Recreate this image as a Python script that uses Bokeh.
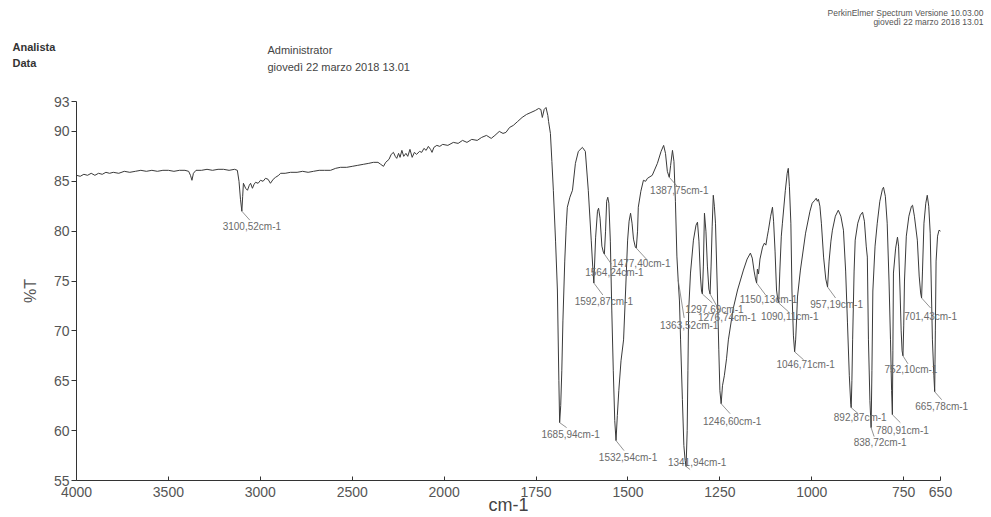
from bokeh.plotting import figure
from bokeh.layouts import column
from bokeh.models import (Range1d, FixedTicker, CustomJSTickFormatter, LinearAxis)
from bokeh.core.properties import value
from bokeh.embed import file_html
from bokeh.resources import INLINE

# ---------------- data ----------------
wn_high = [4000, 3980, 3960, 3940, 3920, 3900, 3880, 3860, 3840, 3820,
           3800, 3770, 3740, 3710, 3680, 3650, 3620, 3590, 3560, 3530,
           3500, 3470, 3440, 3410, 3390, 3380, 3372, 3364, 3350, 3320,
           3290, 3260, 3230, 3200, 3170, 3140, 3125, 3116, 3108, 3100.52,
           3096, 3092, 3080, 3070, 3060, 3053, 3043, 3034, 3026, 3012,
           2999, 2985, 2972, 2958, 2945, 2930, 2917, 2900, 2890, 2865,
           2836, 2800, 2770, 2740, 2711, 2680, 2650, 2618, 2590, 2564,
           2530, 2500, 2470, 2440, 2410, 2385, 2360, 2345, 2330, 2318,
           2300, 2288, 2276, 2266, 2258, 2248, 2240, 2230, 2220, 2208,
           2198, 2186, 2174, 2162, 2150, 2134, 2122, 2110, 2098, 2086,
           2074, 2066, 2056, 2040, 2024, 2008, 1990, 1975, 1962, 1950,
           1938, 1925, 1910, 1898, 1885, 1872, 1862, 1850, 1840, 1832,
           1822, 1812, 1800, 1788, 1776, 1764, 1752, 1743, 1737, 1733,
           1728, 1723, 1718]
tr_high = [85.6, 85.5, 85.7, 85.6, 85.8, 85.6, 85.8, 85.7, 85.9, 85.8,
           85.9, 85.8, 86.0, 85.9, 86.0, 86.1, 86.0, 86.1, 86.0, 86.1,
           86.1, 86.0, 86.1, 86.1, 86.0, 85.6, 85.1, 85.8, 86.1, 86.1,
           86.2, 86.1, 86.2, 86.2, 86.1, 86.2, 86.1, 85.0, 83.2, 82.0,
           83.5, 84.8, 84.3, 84.1, 84.6, 84.8, 84.3, 84.7, 84.9, 84.8,
           85.1, 85.0, 85.3, 85.2, 84.8, 85.2, 85.4, 85.6, 85.8, 85.8,
           85.9, 85.9, 86.0, 85.9, 86.0, 86.1, 86.1, 86.1, 86.3, 86.4,
           86.4, 86.5, 86.6, 86.7, 86.8, 86.9, 86.9, 86.7, 86.5, 86.9,
           87.2, 87.7, 87.9, 87.5, 87.3, 87.8, 87.4, 88.1, 87.5, 87.8,
           87.5, 88.2, 87.4, 87.9, 87.7, 88.0, 87.9, 88.3, 88.1, 88.5,
           88.2, 87.9, 88.4, 88.6, 88.5, 88.7, 88.6, 88.9, 88.8, 89.1,
           88.9, 89.2, 89.1, 89.4, 89.6, 89.3, 89.6, 90.0, 89.8, 89.9,
           90.4, 90.6, 91.0, 91.4, 91.7, 91.9, 92.1, 92.3, 92.2, 91.4,
           92.2, 92.4, 91.6]

wn_mid = [1716, 1711, 1707, 1703, 1697, 1692, 1688, 1685.94, 1683, 1680,
          1677, 1672, 1668, 1665, 1658, 1651, 1643, 1635, 1624, 1616,
          1608, 1600, 1596, 1592.87, 1588, 1583, 1580, 1576, 1571, 1567,
          1564.24, 1561, 1558, 1555, 1552, 1548, 1544, 1540, 1536, 1532.54,
          1529, 1525, 1519, 1512, 1506, 1501, 1497, 1493, 1489, 1485,
          1480, 1477.40, 1474, 1472, 1465, 1458, 1452, 1447, 1434, 1420,
          1410, 1403, 1398, 1393, 1387.75, 1384, 1379, 1375, 1371, 1367,
          1363.52, 1360, 1357, 1352, 1348, 1344.5, 1341.94, 1339, 1337, 1335,
          1330, 1322, 1315, 1311, 1307, 1303, 1300, 1297.69, 1295, 1292,
          1288, 1284, 1280, 1276.74, 1274, 1271, 1268, 1265, 1262, 1257,
          1253, 1250, 1246.60]
tr_mid = [91.0, 89.8, 87.0, 84.1, 79.0, 74.1, 65.0, 60.8, 62.5, 66.0,
          71.0, 77.0, 80.5, 82.4, 83.4, 84.1, 86.8, 88.0, 88.4, 88.0,
          84.1, 79.1, 76.5, 74.8, 79.4, 82.0, 82.3, 81.3, 78.5, 77.9,
          77.7, 80.0, 83.0, 83.4, 82.8, 79.0, 72.0, 66.0, 61.0, 59.0,
          61.5, 64.0, 67.0, 69.1, 74.5, 79.1, 81.0, 81.8, 80.8, 79.2,
          78.4, 78.3, 80.0, 82.4, 84.0, 85.1, 85.0, 85.3, 85.6, 86.8,
          88.0, 88.6, 87.8, 86.0, 85.4, 86.6, 88.1, 87.0, 83.0, 77.5,
          75.1, 73.0, 69.1, 63.1, 58.5, 57.0, 56.4, 60.0, 66.0, 72.0,
          75.8, 79.1, 80.6, 80.9, 79.0, 75.5, 74.0, 73.7, 76.5, 81.8,
          80.0, 76.5, 74.2, 73.7, 76.5, 80.5, 83.6, 82.5, 80.8, 74.1,
          68.1, 64.0, 62.7]

wn_low = [1243, 1238, 1232, 1227, 1214, 1202, 1186, 1176, 1167, 1162,
          1157, 1153, 1150.13, 1148, 1145, 1141, 1134, 1129, 1125, 1121,
          1118, 1112, 1107, 1104, 1100, 1096, 1092, 1090.11, 1087, 1083,
          1080, 1072, 1067, 1064, 1061, 1057, 1054, 1050, 1046.71, 1044,
          1041, 1039, 1031, 1017, 1005, 999, 992, 988, 985, 982,
          978, 974, 968, 962, 957.19, 953, 948, 944, 936, 928,
          921, 914, 908, 903, 898, 894, 892.87, 891, 889, 885,
          882, 875, 868, 862, 857, 852, 849, 846, 842, 838.72,
          836.5, 834, 828, 822, 815, 808, 805, 800, 795, 790,
          786, 783, 780.91, 779.5, 778, 772, 767, 764, 760, 757,
          754.5, 752.10, 750, 748, 743, 736, 729, 726, 721, 713,
          708, 704, 701.43, 699, 695, 690, 686, 682, 678, 672,
          668, 665.78, 664, 662, 658, 654, 650]
tr_low = [64.5, 65.5, 67.2, 69.1, 72.2, 74.1, 76.1, 77.2, 77.8, 77.3,
          76.0, 75.2, 74.8, 76.2, 75.7, 77.2, 78.4, 78.8, 78.6, 79.5,
          80.1, 81.5, 82.4, 81.0, 78.0, 74.1, 73.0, 72.8, 76.0, 79.5,
          80.8, 84.1, 85.8, 86.3, 84.5, 80.8, 74.0, 69.5, 67.9, 69.1,
          71.5, 73.4, 76.1, 79.8, 82.0, 82.8, 83.1, 83.3, 83.0, 83.2,
          82.5, 80.8, 77.4, 75.2, 74.4, 77.0, 79.0, 80.1, 81.5, 82.1,
          81.5, 80.1, 76.0, 70.8, 65.5, 62.6, 62.3, 65.0, 69.1, 76.0,
          79.1, 80.8, 81.6, 81.9, 81.0, 78.5, 77.4, 69.1, 63.0, 60.3,
          66.0, 74.0, 78.5, 80.8, 83.0, 84.2, 84.4, 83.5, 80.8, 75.0,
          69.1, 64.0, 61.6, 68.0, 75.8, 78.3, 79.4, 78.5, 74.0, 70.0,
          68.0, 67.5, 70.5, 75.0, 79.5, 81.5, 82.5, 82.6, 81.5, 79.1,
          75.5, 73.8, 73.3, 76.0, 80.8, 82.8, 83.6, 82.5, 79.8, 69.1,
          65.5, 63.9, 70.0, 77.0, 79.5, 80.1, 80.0]

peak_wn = [3100.52, 1685.94, 1532.54, 1341.94, 1246.60, 1046.71, 892.87,
           838.72, 780.91, 752.10, 665.78, 701.43, 957.19, 1090.11, 1150.13,
           1297.69, 1276.74, 1363.52, 1387.75, 1477.40, 1564.24, 1592.87]
peak_text = ["3100,52cm-1", "1685,94cm-1", "1532,54cm-1", "1341,94cm-1",
             "1246,60cm-1", "1046,71cm-1", "892,87cm-1", "838,72cm-1",
             "780,91cm-1", "752,10cm-1", "665,78cm-1", "701,43cm-1",
             "957,19cm-1", "1090,11cm-1", "1150,13cm-1", "1297,69cm-1",
             "1276,74cm-1", "1363,52cm-1", "1387,75cm-1", "1477,40cm-1",
             "1564,24cm-1", "1592,87cm-1"]

y_ticks = [55, 60, 65, 70, 75, 80, 85, 90, 93]
x_tick_wn = [4000, 3500, 3000, 2500, 2000, 1750, 1500, 1250, 1000, 750, 650]

header_left = ["Analista", "Data"]
header_mid = ["Administrator", "giovedì 22 marzo 2018 13.01"]
header_right = ["PerkinElmer Spectrum Versione 10.03.00", "giovedì 22 marzo 2018 13.01"]

# ---------------- layout (pixel offsets of labels from their peak) ----------------
label_dx = [10, 11, 12, 11, 11, 11, 9, 9, 10, 8, 7, 9, 9, 11, 12, 12, 17, 11, 10, 5, 10, 10]
label_dy = [15, 12, 17, -4, 18, 13, 10, 15, 16, 14, 15, 19, 18, 14, 17, 16, 24, 46, 13, 15, 18, 19]
lead_dx = [8, 7, 8, 4, 9, 9, 7, 3, 8, 5, 7, 9, 8, 10, 9, 10, 10, 6, 8, 11, 7, 9]
lead_dy = [9, 5, 10, 3, 10, 8, 6, 9, 8, 8, 8, 10, 11, 9, 12, 9, 18, 38, 9, 12, 10, 12]


def to_u(w):
    # instrument's split abscissa: 4000-2000 at half scale, 2000-650 at full scale
    return (4000.0 - w) / 2.0 if w >= 2000 else 1000.0 + (2000.0 - w)


FONT = "Liberation Sans"
W, H = 991, 517
HEAD_H = 90                       # header strip (texts above the plot)
BL, BT, BB = 76, 101 - HEAD_H, 36
AXIS_RIGHT = 940                  # pixel where the 650 cm-1 end of the axis sits
FW = AXIS_RIGHT - BL
U_MAX = to_u(650)
SX = FW / U_MAX
SY = (H - HEAD_H - BT - BB) / (93 - 55)
U_EXT = (W - BL) / SX             # frame runs to the right edge so labels are not cut

# ---------------- header strip ----------------
head = figure(width=W, height=HEAD_H, output_backend="svg", toolbar_location=None,
              x_range=Range1d(0, W), y_range=Range1d(HEAD_H, 0),
              x_axis_location=None, y_axis_location=None,
              min_border=0, min_border_left=0, min_border_right=0,
              min_border_top=0, min_border_bottom=0, title=None)
head.outline_line_color = None
head.grid.visible = False
head.border_fill_color = "white"
head.text(x=[12, 12], y=[46, 62], text=header_left, text_font=value(FONT),
          text_font_size=value("11px"), text_font_style="bold", text_color="#333333",
          text_align="left", text_baseline="middle")
head.text(x=[267, 267], y=[49, 66], text=header_mid, text_font=value(FONT),
          text_font_size=value("11px"), text_color="#444444",
          text_align="left", text_baseline="middle")
head.text(x=[983, 983], y=[12, 21], text=header_right, text_font=value(FONT),
          text_font_size=value("8.5px"), text_color="#555555",
          text_align="right", text_baseline="middle")

# ---------------- main plot ----------------
wn = wn_high + wn_mid + wn_low
tr = tr_high + tr_mid + tr_low
u = [to_u(w) for w in wn]
lookup = dict(zip(wn, tr))

p = figure(width=W, height=H - HEAD_H, output_backend="svg", toolbar_location=None,
           x_range=Range1d(0, U_EXT), y_range=Range1d(55, 93),
           min_border_left=BL, min_border_right=0,
           min_border_top=BT, min_border_bottom=BB, title=None)
p.outline_line_color = None
p.grid.visible = False
p.background_fill_color = "white"
p.border_fill_color = "white"

# keep the two stacked canvases independent (no frame alignment between them)
for fig in (head, p):
    try:
        fig.frame_align = False
    except Exception:
        pass

p.yaxis.ticker = FixedTicker(ticks=y_ticks)
p.yaxis.major_tick_out = 5
p.yaxis.major_tick_in = 0
p.yaxis.minor_tick_out = 0
p.yaxis.minor_tick_in = 0
p.yaxis.major_label_standoff = 2
p.yaxis.axis_label = "%T"
p.yaxis.axis_label_standoff = 12
p.yaxis.axis_label_text_font_size = "16px"
p.yaxis.axis_label_text_font_style = "normal"
p.yaxis.axis_label_text_color = "#555555"
p.yaxis.axis_label_text_font = FONT

p.xaxis.bounds = (0, U_MAX)
p.xaxis.ticker = FixedTicker(ticks=[to_u(v) for v in x_tick_wn])
p.xaxis.formatter = CustomJSTickFormatter(
    code="return String(Math.round(tick <= 1000 ? 4000 - 2*tick : 3000 - tick));")
p.xaxis.major_tick_out = 0
p.xaxis.major_tick_in = 4
p.xaxis.minor_tick_out = 0
p.xaxis.minor_tick_in = 0
p.xaxis.major_label_standoff = 6
for ax in (p.xaxis, p.yaxis):
    ax.axis_line_color = "#333333"
    ax.major_tick_line_color = "#333333"
    ax.major_label_text_font = FONT
    ax.major_label_text_font_size = "14px"
    ax.major_label_text_color = "#555555"

# unit caption under the axis, centred under the drawn part of the axis
cm_axis = LinearAxis(ticker=FixedTicker(ticks=[U_MAX / 2]),
                     formatter=CustomJSTickFormatter(code='return "cm-1";'),
                     axis_line_color=None, major_tick_line_color=None,
                     minor_tick_line_color=None, major_tick_in=0, major_tick_out=0,
                     minor_tick_in=0, minor_tick_out=0, major_label_standoff=-5,
                     major_label_text_font=FONT, major_label_text_font_size="18px",
                     major_label_text_color="#444444")
p.add_layout(cm_axis, "below")

# spectrum
p.line(u, tr, line_color="#3a3a3a", line_width=1)

# peak leaders and labels
pk_u = [to_u(w) for w in peak_wn]
pk_t = [lookup[w] for w in peak_wn]
p.segment(x0=pk_u, y0=pk_t,
          x1=[a + d / SX for a, d in zip(pk_u, lead_dx)],
          y1=[b - d / SY for b, d in zip(pk_t, lead_dy)],
          line_color="#777777", line_width=0.8)
p.text(x=[a + d / SX for a, d in zip(pk_u, label_dx)],
       y=[b - d / SY for b, d in zip(pk_t, label_dy)],
       text=peak_text, text_align="center", text_baseline="middle",
       text_font=value(FONT), text_font_size=value("10px"), text_color="#6a6a6a")

layout = column(head, p, spacing=0)
open("out.html", "w").write(file_html(layout, INLINE))
